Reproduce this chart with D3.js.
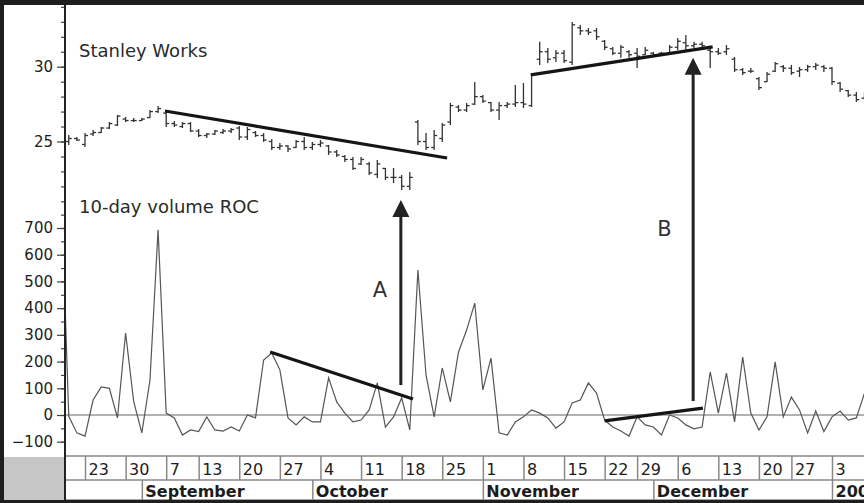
<!DOCTYPE html>
<html><head><meta charset="utf-8">
<script src="https://cdn.jsdelivr.net/npm/d3@7"></script>
<style>body{margin:0;background:#fff}svg{display:block}</style>
</head><body><svg id="c" width="864" height="503"></svg>
<script>
// ---- DATA (trading-day index 0 = Aug 23 1999) ----
const priceStart = -2;
const high = [25.43,25.30,25.57,25.77,25.97,26.30,26.77,26.64,26.57,26.57,27.11,27.37,
26.97,26.37,26.30,26.30,25.84,25.57,25.77,25.84,25.90,26.04,
25.97,25.70,25.57,25.17,24.90,24.77,25.10,25.30,24.97,25.10,
24.77,24.43,24.10,23.96,23.96,23.63,23.76,23.23,23.23,22.76,
22.96,26.44,25.57,25.77,26.24,27.58,27.44,27.58,28.98,28.11,
27.64,27.64,27.64,28.78,28.91,29.58,31.66,31.25,31.12,31.12,
32.99,32.79,32.59,32.59,31.79,31.32,31.45,31.12,31.25,31.32,
30.99,30.99,31.45,31.92,32.12,31.66,31.66,31.25,31.25,31.45,
30.65,29.92,29.92,29.31,29.65,30.32,30.12,30.12,29.98,30.12,
30.25,30.12,29.98,28.98,28.44,28.31,28.31];
const low = [24.77,25.03,24.63,25.37,25.57,25.84,26.04,26.30,26.30,26.37,26.57,26.91,
25.97,25.97,25.90,25.64,25.30,25.23,25.43,25.50,25.57,25.10,
25.10,25.30,24.97,24.43,24.43,24.30,24.57,24.43,24.43,24.63,
24.10,23.96,23.63,23.09,23.43,22.76,22.56,22.42,22.22,21.76,
21.76,24.77,24.43,24.43,24.97,26.10,26.97,26.97,27.44,27.58,
26.97,26.44,27.24,27.31,27.24,27.31,30.12,30.25,30.32,30.25,
30.12,32.12,32.12,31.79,31.12,30.79,30.59,30.59,29.92,30.79,
30.65,30.79,30.79,31.12,31.12,31.25,31.25,29.92,30.79,30.79,
29.65,29.45,29.58,28.44,28.98,29.65,29.65,29.45,29.31,29.65,
29.78,29.65,28.78,28.31,27.98,27.64,27.78];
const open = [25.0,25.2,24.8,25.5,25.6,25.9,26.1,26.5,26.4,26.4,26.6,27.0,
26.9,26.2,26.0,26.2,25.7,25.4,25.5,25.6,25.7,25.9,
25.3,25.6,25.4,25.0,24.6,24.7,24.6,25.0,24.6,24.8,
24.7,24.3,24.0,23.8,23.5,23.5,22.8,23.2,22.6,22.6,
22.0,26.3,25.0,24.6,25.2,26.3,27.3,27.1,27.5,28.0,
27.6,27.1,27.4,27.5,27.6,27.4,30.5,31.0,30.6,30.9,
30.3,32.6,32.4,32.4,31.7,31.2,30.9,31.0,30.9,30.8,
30.9,30.9,30.9,31.3,31.6,31.4,31.5,31.1,31.0,31.0,
30.5,29.8,29.7,29.2,29.0,29.7,30.0,29.9,29.7,29.8,
30.0,30.0,29.9,28.9,28.4,28.1,27.9];
const close = [25.2,25.1,25.4,25.6,25.9,26.2,26.7,26.4,26.4,26.5,27.0,27.2,
26.2,26.1,26.2,25.7,25.4,25.5,25.7,25.7,25.8,25.3,
25.8,25.4,25.1,24.6,24.7,24.5,25.0,24.6,24.8,24.9,
24.3,24.1,23.8,23.2,23.8,22.9,23.5,22.6,22.6,22.0,
22.6,25.0,24.6,25.4,26.1,27.4,27.1,27.4,28.0,27.7,
27.1,27.4,27.5,27.6,27.5,29.5,31.0,30.5,30.9,30.4,
32.8,32.4,32.3,32.0,31.3,30.9,31.3,30.8,30.7,31.1,
30.8,30.9,31.3,31.7,31.4,31.5,31.4,31.0,30.9,31.2,
29.8,29.6,29.7,28.6,29.5,30.2,29.9,29.6,29.8,30.0,
30.1,29.9,29.0,28.5,28.1,27.8,28.1];
const rocStart = -3;
const roc = [900,-5,-67,-79,56,105,100,-11,307,50,-67,130,693,
7,-11,-75,-56,-62,-7,-56,-60,-45,-60,
0,-11,206,232,169,-11,-37,-7,-26,-26,
139,49,7,-26,-19,19,120,-45,-7,64,
-56,543,150,-7,176,49,236,318,419,94,
213,-67,-75,-26,-7,19,7,-11,-49,-26,
45,56,120,82,-19,-45,-60,-79,-7,-37,
-45,-75,0,-11,-37,-52,-45,161,7,157,
-26,217,7,-56,-7,199,-7,67,19,-67,
15,-62,-7,15,-19,-11,82];
const weekIndex = [0,5,10,14,19,24,29,34,39,44,49,54,59,64,68,73,78,83,87,92];
const weekLabels = ["23","30","7","13","20","27","4","11","18","25","1","8","15","22","29","6","13","20","27","3"];
const monthIndex = [7,28,49,70,92];
const monthLabels = ["September","October","November","December","2000"];
const priceMajor = [25,30];
const priceMinor = [21,22,23,24,25,26,27,28,29,30,31,32,33,34];
const rocMajor = [-100,0,100,200,300,400,500,600,700];
const rocMinor = [-100,-50,0,50,100,150,200,250,300,350,400,450,500,550,600,650,700,750];
// annotations (index, value)
const priceTrendA = [[9.85,27.04],[44.6,23.9]];
const priceTrendB = [[54.9,29.45],[77.3,31.32]];
const rocTrendA = [[22.8,236],[40.4,60]];
const rocTrendB = [[64,-22],[76.1,26]];
const arrowIndex = [38.9,74.9];
const arrowBaseRoc = [112,52];
const arrowTipPrice = [21.09,30.59];
const arrowLabels = ["A","B"];

// ---- CHART ----
const svg = d3.select("#c");
const plotL=65, plotR=864, plotT=5, plotB=456;
const x = d3.scaleLinear().domain([0,92]).range([85,832]);
const yP = d3.scaleLinear().domain([25,30]).range([141.5,66.7]);
const yR = d3.scaleLinear().domain([0,700]).range([415,228]);
const FONT = "DejaVu Sans, sans-serif";
const TXT = "#1c1c1c";

svg.append("rect").attr("width",864).attr("height",503).attr("fill","#fff");
svg.append("defs").append("clipPath").attr("id","clip").append("rect")
  .attr("x",plotL).attr("y",plotT).attr("width",plotR-plotL).attr("height",plotB-plotT);

// y axes
function yAxis(scale, vals, size, labels){
  const g = svg.append("g").attr("transform",`translate(${plotL},0)`)
    .call(d3.axisLeft(scale).tickValues(vals).tickSize(size).tickFormat(labels?d3.format("d"):""));
  g.select(".domain").remove();
  g.selectAll(".tick line").attr("stroke","#444").attr("stroke-width",1.2);
  g.selectAll(".tick text").attr("font-family",FONT).attr("font-size",15).attr("fill",TXT).attr("x",-12);
  return g;
}
yAxis(yP, priceMinor, 4, false);
yAxis(yP, priceMajor, 8, true);
yAxis(yR, rocMinor, 4, false);
yAxis(yR, rocMajor, 8, true);

// zero line
svg.append("line").attr("x1",plotL).attr("x2",plotR).attr("y1",yR(0)).attr("y2",yR(0))
  .attr("stroke","#666").attr("stroke-width",1.1);

// titles
svg.append("text").attr("x",79).attr("y",57).text("Stanley Works")
  .attr("font-family",FONT).attr("font-size",18).attr("fill","#2a2a2a");
svg.append("text").attr("x",79).attr("y",213).text("10-day volume ROC")
  .attr("font-family",FONT).attr("font-size",18).attr("fill","#2a2a2a");

const plot = svg.append("g").attr("clip-path","url(#clip)");

// price bars
const bars = high.map((h,k)=>({i:priceStart+k,h,l:low[k],o:open[k],c:close[k]}));
const gb = plot.append("g").attr("stroke","#333").attr("stroke-width",1.3);
gb.selectAll(".hl").data(bars).join("line").attr("class","hl")
  .attr("x1",d=>x(d.i)).attr("x2",d=>x(d.i)).attr("y1",d=>yP(d.h)).attr("y2",d=>yP(d.l));
gb.selectAll(".op").data(bars).join("line").attr("class","op")
  .attr("x1",d=>x(d.i)-3).attr("x2",d=>x(d.i)).attr("y1",d=>yP(d.o)).attr("y2",d=>yP(d.o));
gb.selectAll(".cl").data(bars).join("line").attr("class","cl")
  .attr("x1",d=>x(d.i)).attr("x2",d=>x(d.i)+3).attr("y1",d=>yP(d.c)).attr("y2",d=>yP(d.c));

// ROC line
const rocPts = roc.map((v,k)=>({i:rocStart+k,v}));
plot.append("path").datum(rocPts).attr("fill","none").attr("stroke","#555").attr("stroke-width",1.2)
  .attr("d",d3.line().x(d=>x(d.i)).y(d=>yR(d.v)));

// trendlines
function trend(pts, ys){
  plot.append("line").attr("x1",x(pts[0][0])).attr("y1",ys(pts[0][1]))
    .attr("x2",x(pts[1][0])).attr("y2",ys(pts[1][1]))
    .attr("stroke","#151515").attr("stroke-width",3.2).attr("stroke-linecap","butt");
}
trend(priceTrendA,yP); trend(priceTrendB,yP); trend(rocTrendA,yR); trend(rocTrendB,yR);

// arrows
arrowIndex.forEach((ai,k)=>{
  const ax = x(ai), tip = yP(arrowTipPrice[k]), base = yR(arrowBaseRoc[k]);
  plot.append("line").attr("x1",ax).attr("x2",ax).attr("y1",base).attr("y2",tip+12)
    .attr("stroke","#222").attr("stroke-width",3);
  plot.append("path").attr("d",`M${ax},${tip} L${ax-8.5},${tip+17} L${ax+8.5},${tip+17} Z`).attr("fill","#222");
});
svg.append("text").attr("x",x(arrowIndex[0])-28).attr("y",297).text(arrowLabels[0])
  .attr("font-family",FONT).attr("font-size",21).attr("fill","#333");
svg.append("text").attr("x",x(arrowIndex[1])-36).attr("y",236).text(arrowLabels[1])
  .attr("font-family",FONT).attr("font-size",21).attr("fill","#333");

// bottom date axis
svg.append("rect").attr("x",4).attr("y",457).attr("width",plotL-4).attr("height",44).attr("fill","#c6c6c6");
[456,480,500].forEach(yy=>svg.append("line").attr("x1",plotL).attr("x2",plotR).attr("y1",yy).attr("y2",yy)
  .attr("stroke","#888").attr("stroke-width",1.5));
const gw = svg.append("g").attr("transform","translate(0,456)")
  .call(d3.axisBottom(x).tickValues(weekIndex).tickSize(24).tickFormat((d,i)=>weekLabels[i]));
gw.select(".domain").remove();
gw.selectAll(".tick line").attr("stroke","#888").attr("stroke-width",1.5);
gw.selectAll(".tick text").attr("x",3).attr("y",19).attr("dy",0).attr("text-anchor","start")
  .attr("font-family",FONT).attr("font-size",16).attr("fill",TXT);
const gm = svg.append("g").attr("transform","translate(0,480)")
  .call(d3.axisBottom(x).tickValues(monthIndex).tickSize(20).tickFormat((d,i)=>monthLabels[i]));
gm.select(".domain").remove();
gm.selectAll(".tick line").attr("stroke","#888").attr("stroke-width",1.5);
gm.selectAll(".tick text").attr("x",3).attr("y",16.5).attr("dy",0).attr("text-anchor","start")
  .attr("font-family",FONT).attr("font-size",16).attr("font-weight","bold").attr("fill",TXT);

// y axis line and frame
svg.append("line").attr("x1",plotL).attr("x2",plotL).attr("y1",plotT).attr("y2",501)
  .attr("stroke","#222").attr("stroke-width",2);
svg.append("rect").attr("x",0).attr("y",0).attr("width",864).attr("height",5).attr("fill","#1e1e1e");
svg.append("rect").attr("x",0).attr("y",0).attr("width",4).attr("height",503).attr("fill","#1e1e1e");
svg.append("rect").attr("x",0).attr("y",500).attr("width",864).attr("height",3).attr("fill","#1e1e1e");
</script></body></html>
